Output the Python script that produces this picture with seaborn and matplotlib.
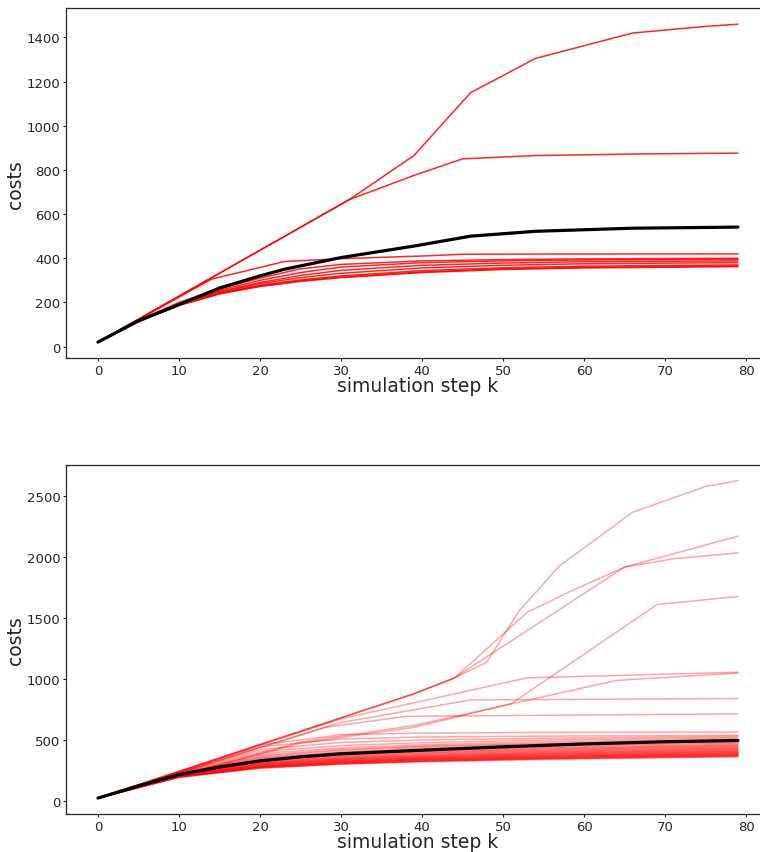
import matplotlib
matplotlib.use("Agg")
import matplotlib.pyplot as plt
import pandas as pd
import seaborn as sns

sns.set_style("ticks")
plt.rcParams["font.family"] = ["DejaVu Sans"]

# ---------------- upper panel: 10 runs + mean ----------------
top_runs = {
    "t1": ([0, 31, 39, 46, 54, 66, 75, 79], [20, 665, 865, 1150, 1305, 1420, 1450, 1460]),
    "t2": ([0, 31, 39, 45, 54, 66, 79], [20, 665, 775, 850, 865, 872, 876]),
    "t3": ([0, 14, 23, 30, 40, 45, 55, 79], [20, 305, 385, 398, 410, 418, 419, 420]),
    "t4": ([0, 5, 10, 15, 20, 25, 30, 40, 50, 60, 79], [20, 118, 200, 262, 310, 352, 372, 388, 394, 397, 400]),
    "t5": ([0, 5, 10, 15, 20, 25, 30, 40, 50, 60, 79], [20, 117, 196, 255, 300, 335, 360, 380, 388, 392, 395]),
    "t6": ([0, 5, 10, 15, 20, 25, 30, 40, 50, 60, 79], [20, 116, 194, 250, 290, 322, 345, 368, 378, 384, 388]),
    "t7": ([0, 5, 10, 15, 20, 25, 30, 40, 50, 60, 79], [20, 115, 192, 246, 285, 312, 332, 356, 368, 375, 380]),
    "t8": ([0, 5, 10, 15, 20, 25, 30, 40, 50, 60, 79], [20, 114, 190, 242, 278, 302, 320, 344, 357, 364, 370]),
    "t9": ([0, 5, 10, 15, 20, 25, 30, 40, 50, 60, 79], [20, 113, 188, 240, 274, 298, 315, 338, 352, 359, 365]),
    "t10": ([0, 5, 10, 15, 20, 25, 30, 40, 50, 60, 79], [20, 112, 186, 238, 272, 295, 312, 335, 349, 356, 362]),
}
top_mean_k = [0, 5, 10, 15, 20, 23, 30, 39, 46, 54, 66, 79]
top_mean_v = [20, 117, 190, 265, 320, 350, 403, 455, 500, 522, 536, 541]

# ---------------- lower panel: many runs + mean ----------------
bottom_outliers = {
    "a": ([0, 39, 44, 48, 52, 57, 66, 75, 79], [20, 875, 1005, 1134, 1557, 1925, 2364, 2575, 2624]),
    "b": ([0, 39, 44, 65, 79], [20, 875, 1005, 1914, 2168]),
    "c": ([0, 39, 44, 53, 59, 65, 71, 79], [20, 875, 1005, 1544, 1736, 1914, 1982, 2031]),
    "d": ([0, 25, 39, 51, 69, 79], [20, 470, 600, 793, 1607, 1673]),
    "e": ([0, 30, 53, 79], [20, 670, 1006, 1052]),
    "f": ([0, 25, 39, 64, 79], [20, 480, 615, 985, 1045]),
    "g": ([0, 30, 46, 79], [20, 640, 825, 836]),
    "h": ([0, 28, 38, 79], [20, 600, 690, 711]),
}
band_k = [0, 10, 20, 30, 40, 55, 79]
bottom_band = [
    [20, 235, 455, 540, 553, 558, 561],
    [20, 233, 440, 505, 521, 528, 535],
    [20, 230, 418, 476, 496, 511, 526],
    [20, 228, 402, 450, 474, 496, 516],
    [20, 225, 386, 431, 457, 481, 506],
    [20, 224, 371, 419, 446, 469, 497],
    [20, 222, 361, 411, 441, 463, 481],
    [20, 220, 351, 399, 429, 451, 473],
    [20, 219, 346, 393, 419, 446, 466],
    [20, 216, 337, 386, 413, 436, 457],
    [20, 215, 333, 377, 404, 431, 452],
    [20, 213, 327, 373, 399, 422, 447],
    [20, 212, 322, 365, 391, 419, 441],
    [20, 211, 319, 361, 387, 411, 434],
    [20, 209, 313, 354, 381, 407, 429],
    [20, 208, 311, 351, 374, 399, 426],
    [20, 207, 305, 345, 371, 396, 419],
    [20, 206, 304, 343, 365, 389, 416],
    [20, 205, 299, 337, 363, 387, 409],
    [20, 204, 298, 336, 357, 381, 407],
    [20, 203, 293, 331, 356, 379, 401],
    [20, 202, 292, 329, 350, 373, 399],
    [20, 201, 287, 324, 349, 371, 393],
    [20, 200, 286, 323, 344, 366, 391],
    [20, 199, 282, 318, 343, 365, 386],
    [20, 198, 281, 317, 338, 359, 385],
    [20, 197, 278, 312, 337, 358, 379],
    [20, 196, 277, 311, 332, 353, 378],
    [20, 195, 274, 308, 331, 352, 373],
    [20, 194, 273, 307, 326, 347, 372],
    [20, 193, 270, 303, 325, 347, 367],
    [20, 192, 269, 302, 322, 342, 366],
    [20, 191, 266, 299, 321, 341, 361],
    [20, 190, 265, 298, 317, 337, 359],
]
bottom_mean_k = [0, 5, 10, 15, 20, 25, 30, 40, 50, 60, 70, 79]
bottom_mean_v = [20, 120, 212, 275, 325, 358, 383, 413, 440, 464, 482, 492]


def long_frame(runs):
    rows = []
    for name, (ks, vs) in runs.items():
        for k, v in zip(ks, vs):
            rows.append({"run": name, "k": k, "cost": v})
    return pd.DataFrame(rows)


top_df = long_frame(top_runs)
bottom_runs = dict(bottom_outliers)
for i, vals in enumerate(bottom_band):
    bottom_runs[f"r{i}"] = (band_k, vals)
bottom_df = long_frame(bottom_runs)

fig = plt.figure(figsize=(7.6, 8.53), dpi=100)
ax_top = fig.add_axes([0.0868, 0.5791, 0.9263, 0.4100])
ax_bot = fig.add_axes([0.0868, 0.0446, 0.9263, 0.4095])

sns.lineplot(data=top_df, x="k", y="cost", units="run", estimator=None,
             color="red", alpha=0.85, lw=1.1, ax=ax_top, legend=False)
sns.lineplot(x=top_mean_k, y=top_mean_v, color="black", lw=2.3, ax=ax_top, zorder=5)

sns.lineplot(data=bottom_df, x="k", y="cost", units="run", estimator=None,
             color="red", alpha=0.35, lw=1.1, ax=ax_bot, legend=False)
sns.lineplot(x=bottom_mean_k, y=bottom_mean_v, color="black", lw=2.3, ax=ax_bot, zorder=5)

for ax in (ax_top, ax_bot):
    ax.set_xlabel("simulation step k", fontsize=13.5, va="top")
    ax.set_ylabel("costs", fontsize=13.5)
    ax.xaxis.set_label_coords(0.5, -0.052)
    ax.yaxis.set_label_coords(-0.058, 0.5)
    ax.tick_params(labelsize=9.5, length=2.5, width=0.8, pad=1.5)
    ax.set_xticks(range(0, 81, 10))
    for s in ax.spines.values():
        s.set_visible(True)
        s.set_linewidth(0.9)

fig.savefig("out.png", dpi=100)
